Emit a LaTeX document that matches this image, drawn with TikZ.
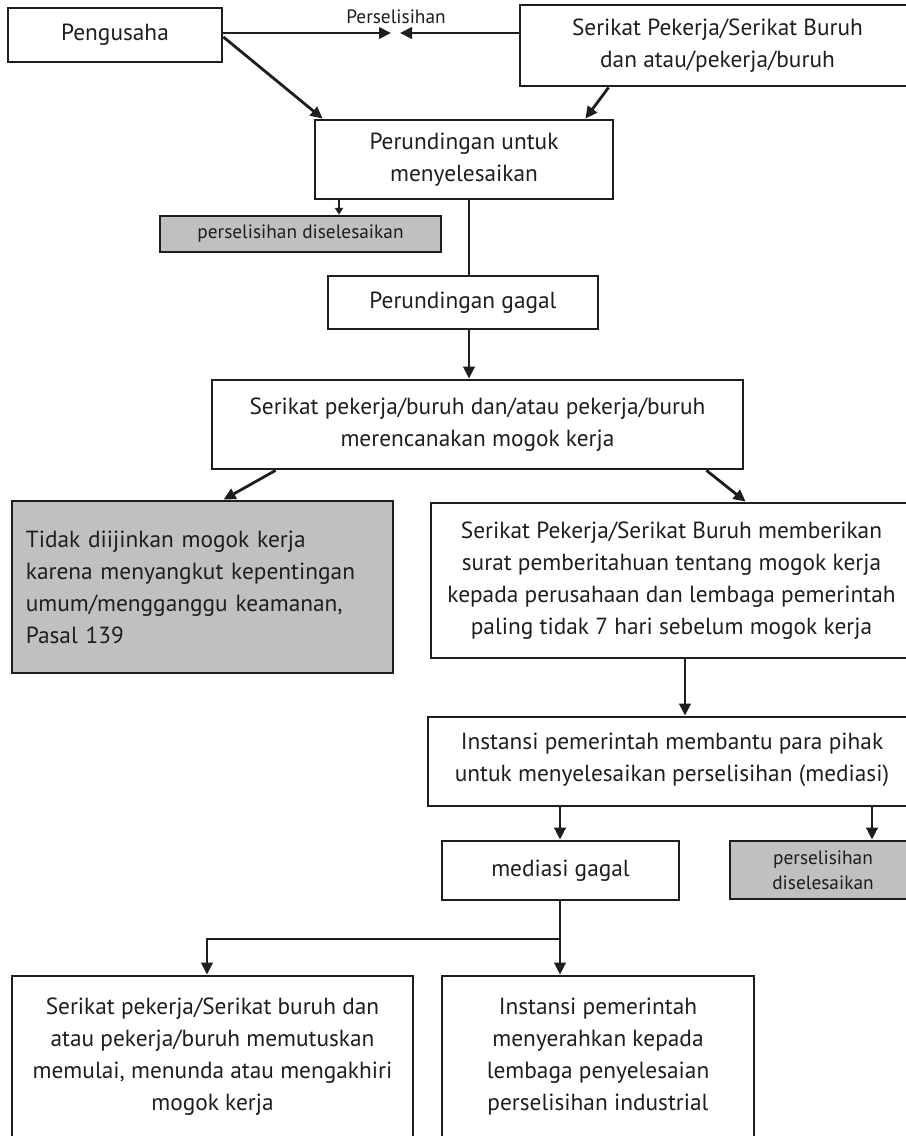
\documentclass[tikz,border=0pt]{standalone}
\usepackage{fontspec}
\setmainfont{PT Sans}
\usetikzlibrary{arrows.meta,fit}
\definecolor{ink}{HTML}{1E1E1E}
\definecolor{shade}{HTML}{C0C0C0}
\newcommand\mainfs{\fontsize{17.5}{24}\selectfont}
\newcommand\smallfs{\fontsize{14.5}{18.75}\selectfont}
\begin{document}
\begin{tikzpicture}[x=0.75pt,y=-0.75pt,
  box/.style={draw=ink,line width=2.1pt,inner sep=0pt},
  graybox/.style={box,fill=shade},
  txt/.style={inner sep=0pt,align=center,font=\mainfs,text=ink},
  stxt/.style={txt,font=\smallfs},
  conn/.style={draw=ink,line width=2.1pt},
  arr/.style={conn,-{Triangle[length=9pt,width=8.5pt]}},
  sarr/.style={draw=ink,line width=1.3pt,-{Triangle[length=5pt,width=6pt]}}]
\useasboundingbox (0,0) rectangle (906,1136);
\clip (0,0) rectangle (906,1136);
% boxes
\node[box,fit={(8,8) (222,62)}] (peng) {};
\node[txt] (pengt) at (peng.center) {Pengusaha};
\node[box,fit={(520,5) (915,86)}] (sertop) {};
\node[txt] (sertopt) at (sertop.center) {Serikat Pekerja/Serikat Buruh\\dan atau/pekerja/buruh};
\node[stxt] (persel) at (396,17) {Perselisihan};
\node[box,fit={(315,120) (613,199)}] (runding) {};
\node[txt] (rundingt) at (runding.center) {Perundingan untuk\\menyelesaikan};
\node[graybox,fit={(160,216) (441,252)}] (gray1) {};
\node[stxt] (gray1t) at (gray1.center) {perselisihan diselesaikan};
\node[box,fit={(328,276) (598,329)}] (gagal) {};
\node[txt] (gagalt) at (gagal.center) {Perundingan gagal};
\node[box,fit={(212,380) (743,469)}] (rencana) {};
\node[txt] (rencanat) at (rencana.center) {Serikat pekerja/buruh dan/atau pekerja/buruh\\merencanakan mogok kerja};
\node[graybox,fit={(12,501) (393,673)}] (tidak) {};
\node[txt,text width=265pt,align=left] (tidakt) at (tidak.center) {Tidak diijinkan mogok kerja\\karena menyangkut kepentingan\\umum/mengganggu keamanan,\\Pasal 139};
\node[box,fit={(431,503) (912,658)}] (surat) {};
\node[txt] (suratt) at (surat.center) {Serikat Pekerja/Serikat Buruh memberikan\\surat pemberitahuan tentang mogok kerja\\kepada perusahaan dan lembaga pemerintah\\paling tidak 7 hari sebelum mogok kerja};
\node[box,fit={(428,717) (916,806)}] (instansi) {};
\node[txt] (instansit) at ([yshift=1.5pt]instansi.center) {Instansi pemerintah membantu para pihak\\untuk menyelesaikan perselisihan (mediasi)};
\node[box,fit={(442,841) (679,900)}] (medgagal) {};
\node[txt] (medgagalt) at (medgagal.center) {mediasi gagal};
\node[graybox,fit={(730,841) (916,899)}] (gray2) {};
\node[stxt] (gray2t) at (gray2.center) {perselisihan\\diselesaikan};
\node[box,fit={(12,976) (413,1138)}] (botl) {};
\node[txt] (botlt) at (botl.center) {Serikat pekerja/Serikat buruh dan\\atau pekerja/buruh memutuskan\\memulai, menunda atau mengakhiri\\mogok kerja};
\node[box,fit={(442,976) (754,1138)}] (botm) {};
\node[txt] (botmt) at (botm.center) {Instansi pemerintah\\menyerahkan kepada\\lembaga penyelesaian\\perselisihan industrial};
% helper coordinates
\coordinate (tipl) at (391,33);
\coordinate (tipr) at (400,33);
\coordinate (p1) at (222,37);
\coordinate (xa) at (339,0);
\coordinate (xb) at (469,0);
\coordinate (xc) at (685,0);
\coordinate (xd) at (560,0);
\coordinate (xe) at (872,0);
\coordinate (xf) at (207,0);
\coordinate (j) at (560,939);
% connectors
\draw[arr] (peng.east |- tipl) -- (tipl);
\draw[arr] (sertop.west |- tipr) -- (tipr);
\draw[arr] (peng.east |- p1) -- ([xshift=6.75pt]runding.north west);
\draw[arr] ([xshift=67.5pt]sertop.south west) -- ([xshift=-21.75pt]runding.north east);
\draw[sarr] (runding.south -| xa) -- (gray1.north -| xa);
\draw[conn] (runding.south -| xb) -- (gagal.north -| xb);
\draw[arr] (gagal.south -| xb) -- (rencana.north -| xb);
\draw[arr] ([xshift=48.75pt]rencana.south west) -- ([xshift=159.75pt]tidak.north west);
\draw[arr] ([xshift=-28.5pt]rencana.south east) -- ([xshift=237pt]surat.north west);
\draw[arr] (surat.south -| xc) -- (instansi.north -| xc);
\draw[arr] (instansi.south -| xd) -- (medgagal.north -| xd);
\draw[arr] (instansi.south -| xe) -- (gray2.north -| xe);
\draw[conn] (medgagal.south -| xd) -- (j);
\draw[arr] (j) -| (botl.north -| xf);
\draw[arr] (j) -- (botm.north -| xd);
\end{tikzpicture}
\end{document}
